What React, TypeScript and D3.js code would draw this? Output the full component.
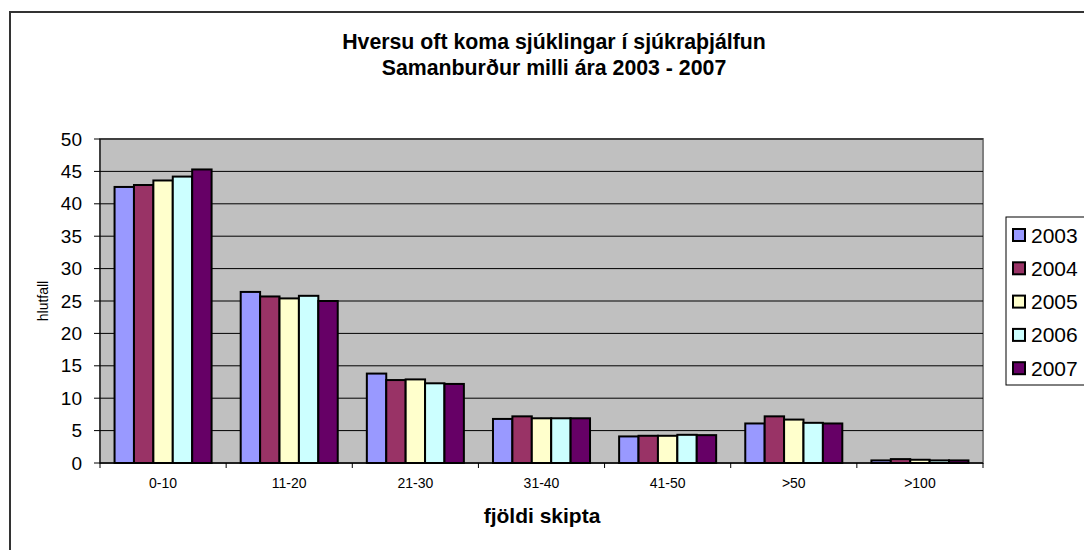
import React from "react"
import * as d3 from "d3"

const categories = ["0-10", "11-20", "21-30", "31-40", "41-50", ">50", ">100"]
const years = ["2003", "2004", "2005", "2006", "2007"]
const v2003 = [42.6, 26.4, 13.8, 6.8, 4.1, 6.1, 0.4]
const v2004 = [42.9, 25.7, 12.8, 7.2, 4.2, 7.2, 0.6]
const v2005 = [43.6, 25.4, 12.9, 6.9, 4.2, 6.7, 0.5]
const v2006 = [44.2, 25.8, 12.3, 6.9, 4.35, 6.2, 0.4]
const v2007 = [45.3, 25.0, 12.2, 6.9, 4.3, 6.1, 0.4]
const yTicks = [0, 5, 10, 15, 20, 25, 30, 35, 40, 45, 50]
const colors = ["#9999FF", "#993366", "#FFFFCC", "#CCFFFF", "#660066"]

const series = [v2003, v2004, v2005, v2006, v2007]

const FONT = "Arial, 'Liberation Sans', sans-serif"
const PLOT = { left: 100, top: 139, right: 983, bottom: 463 }

export default function App() {
	const x = d3.scaleBand<string>()
		.domain(categories)
		.range([PLOT.left, PLOT.right])
		.padding(0)
	const xInner = d3.scaleBand<string>()
		.domain(years)
		.range([0, x.bandwidth()])
		.paddingInner(0)
		.paddingOuter(0.75)
	const y = d3.scaleLinear().domain([0, 50]).range([PLOT.bottom, PLOT.top])

	const boundaries = categories.map(c => x(c) as number).concat([PLOT.right])

	return (
		<svg width={1084} height={550} style={{ position: "absolute", left: 0, top: 0, background: "#fff" }} fontFamily={FONT}>
			{/* chart border */}
			<rect x={10} y={12} width={1100} height={560} fill="#fff" stroke="#333" strokeWidth={2} />

			{/* title */}
			<text x={554} y={49} textAnchor="middle" fontSize={21.3} fontWeight="bold">Hversu oft koma sjúklingar í sjúkraþjálfun</text>
			<text x={554} y={75} textAnchor="middle" fontSize={21.3} fontWeight="bold">Samanburður milli ára 2003 - 2007</text>

			{/* plot area */}
			<rect x={PLOT.left} y={PLOT.top} width={PLOT.right - PLOT.left} height={PLOT.bottom - PLOT.top} fill="#C0C0C0" stroke="#808080" strokeWidth={2} />
			{yTicks.filter(t => t > 0).map(t => (
				<line key={t} x1={PLOT.left} x2={PLOT.right} y1={y(t)} y2={y(t)} stroke="#000" strokeWidth={1} />
			))}

			{/* bars */}
			{categories.map((c, ci) => (
				<g key={c} transform={`translate(${x(c)},0)`}>
					{series.map((s, si) => (
						<rect key={si}
							x={xInner(years[si])}
							y={y(s[ci])}
							width={xInner.bandwidth()}
							height={PLOT.bottom - y(s[ci])}
							fill={colors[si]}
							stroke="#000"
							strokeWidth={2} />
					))}
				</g>
			))}

			{/* y axis */}
			<line x1={PLOT.left} x2={PLOT.left} y1={PLOT.top} y2={PLOT.bottom} stroke="#000" strokeWidth={1} />
			{yTicks.map(t => (
				<g key={t}>
					<line x1={PLOT.left - 6} x2={PLOT.left} y1={y(t)} y2={y(t)} stroke="#000" />
					<text x={82} y={y(t)} dy="0.35em" textAnchor="end" fontSize={19}>{t}</text>
				</g>
			))}
			<text transform={`translate(48,301) rotate(-90)`} textAnchor="middle" fontSize={14}>hlutfall</text>

			{/* x axis */}
			<line x1={PLOT.left} x2={PLOT.right} y1={PLOT.bottom} y2={PLOT.bottom} stroke="#000" strokeWidth={1.5} />
			{boundaries.map((b, i) => (
				<line key={i} x1={b} x2={b} y1={PLOT.bottom} y2={PLOT.bottom + 5} stroke="#000" />
			))}
			{categories.map(c => (
				<text key={c} x={(x(c) as number) + x.bandwidth() / 2} y={488} textAnchor="middle" fontSize={14}>{c}</text>
			))}
			<text x={542} y={523} textAnchor="middle" fontSize={21} fontWeight="bold">fjöldi skipta</text>

			{/* legend */}
			<rect x={1006} y={217} width={100} height={168} fill="#fff" stroke="#000" strokeWidth={1} />
			{years.map((yr, i) => {
				const cy = 235 + i * 33.3
				return (
					<g key={yr}>
						<rect x={1013} y={cy - 6} width={12} height={12} fill={colors[i]} stroke="#000" strokeWidth={2} />
						<text x={1031} y={cy} dy="0.36em" fontSize={21}>{yr}</text>
					</g>
				)
			})}
		</svg>
	)
}
